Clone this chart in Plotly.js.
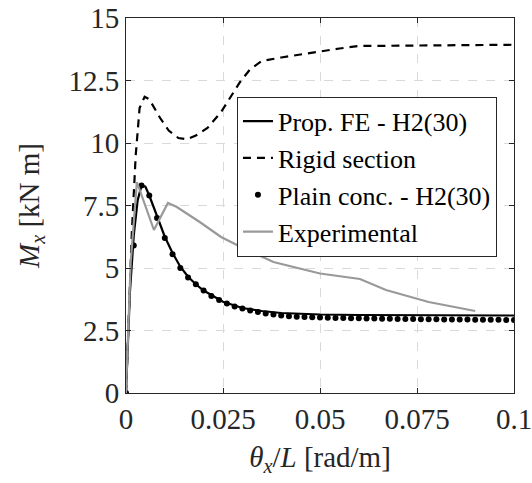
<!DOCTYPE html>
<html>
<head>
<meta charset="utf-8">
<script src="https://cdn.plot.ly/plotly-3.0.1.min.js"></script>
<style>html,body{margin:0;padding:0;background:#fff;}#chart{width:532px;height:483px;}</style>
</head>
<body>
<div id="chart"></div>
<script>
// Prop. FE - H2(30)
const feX = [0, 0.001, 0.002, 0.003, 0.004, 0.005, 0.006, 0.008, 0.010, 0.012, 0.014, 0.016, 0.018, 0.020, 0.025, 0.030, 0.035, 0.040, 0.050, 0.060, 0.070, 0.080, 0.090, 0.100];
const feY = [0, 4.0, 6.3, 7.7, 8.3, 8.25, 7.9, 7.05, 6.25, 5.6, 5.05, 4.65, 4.35, 4.1, 3.65, 3.4, 3.28, 3.2, 3.14, 3.12, 3.11, 3.1, 3.1, 3.1];
// Rigid section
const rigidX = [0, 0.0015, 0.0025, 0.0035, 0.0048, 0.006, 0.0088, 0.011, 0.0135, 0.0157, 0.018, 0.021, 0.0245, 0.0294, 0.032, 0.035, 0.040, 0.045, 0.050, 0.055, 0.060, 0.070, 0.080, 0.090, 0.100];
const rigidY = [0, 6.4, 9.5, 11.4, 11.85, 11.75, 11.0, 10.5, 10.2, 10.15, 10.3, 10.6, 11.24, 12.44, 12.95, 13.28, 13.42, 13.55, 13.65, 13.78, 13.88, 13.9, 13.9, 13.92, 13.93];
// Plain conc. - H2(30)
const plainX = [0, 0.002, 0.004, 0.006, 0.008, 0.010, 0.012, 0.014, 0.016, 0.018, 0.020, 0.022, 0.024, 0.026, 0.028, 0.030, 0.032, 0.034, 0.036, 0.038, 0.040, 0.042, 0.044, 0.046, 0.048, 0.050, 0.052, 0.054, 0.056, 0.058, 0.060, 0.062, 0.064, 0.066, 0.068, 0.070, 0.072, 0.074, 0.076, 0.078, 0.080, 0.082, 0.084, 0.086, 0.088, 0.090, 0.092, 0.094, 0.096, 0.098, 0.100];
const plainY = [0, 5.9, 8.3, 7.9, 7.0, 6.2, 5.55, 5.0, 4.62, 4.35, 4.1, 3.88, 3.72, 3.58, 3.46, 3.38, 3.3, 3.24, 3.18, 3.14, 3.1, 3.07, 3.05, 3.04, 3.03, 3.02, 3.01, 3.0, 3.0, 2.99, 2.99, 2.98, 2.98, 2.97, 2.97, 2.96, 2.96, 2.96, 2.95, 2.95, 2.95, 2.94, 2.94, 2.94, 2.94, 2.93, 2.93, 2.93, 2.93, 2.92, 2.92];
// Experimental
const expX = [0, 0.0012, 0.0028, 0.0072, 0.0108, 0.013, 0.019, 0.0245, 0.0286, 0.038, 0.050, 0.055, 0.0603, 0.067, 0.0758, 0.078, 0.090];
const expY = [0, 5.2, 8.44, 6.52, 7.6, 7.45, 6.84, 6.24, 5.92, 5.24, 4.78, 4.66, 4.56, 4.12, 3.72, 3.64, 3.28];

const xTicks = [0, 0.025, 0.05, 0.075, 0.1];
const xTickText = ['0', '0.025', '0.05', '0.075', '0.1'];
const yTicks = [0, 2.5, 5, 7.5, 10, 12.5, 15];
const yTickText = ['0', '2.5', '5', '7.5', '10', '12.5', '15'];

const FONT = "'Liberation Serif', 'Times New Roman', serif";

const traces = [
  {x: feX, y: feY, mode: 'lines', name: 'Prop. FE - H2(30)', line: {color: '#000000', width: 2.2}},
  {x: rigidX, y: rigidY, mode: 'lines', name: 'Rigid section', line: {color: '#000000', width: 2.2, dash: '8px,6px'}},
  {x: plainX, y: plainY, mode: 'markers', name: 'Plain conc. - H2(30)', marker: {color: '#000000', size: 6}},
  {x: expX, y: expY, mode: 'lines', name: 'Experimental', line: {color: '#999999', width: 2.2}}
];

const axisCommon = {
  showline: true, linecolor: '#262626', linewidth: 1, mirror: 'ticks',
  ticks: 'inside', ticklen: 5, tickcolor: '#262626', tickwidth: 1,
  showgrid: true, gridcolor: '#d9d9d9', gridwidth: 1, griddash: 'dash',
  zeroline: false, ticklabeloverflow: 'allow',
  tickfont: {family: FONT, size: 29, color: '#262626'}
};

const layout = {
  width: 532, height: 483,
  margin: {l: 126, r: 18, t: 18, b: 90, autoexpand: false},
  paper_bgcolor: '#ffffff', plot_bgcolor: '#ffffff',
  font: {family: FONT, color: '#262626'},
  showlegend: true,
  legend: {
    x: 0.286, y: 0.79, xanchor: 'left', yanchor: 'top',
    bgcolor: '#ffffff', bordercolor: '#262626', borderwidth: 1,
    font: {family: FONT, size: 26, color: '#000000'},
    tracegroupgap: 0, itemwidth: 30
  },
  xaxis: Object.assign({}, axisCommon, {
    range: [0, 0.1], tickmode: 'array', tickvals: xTicks, ticktext: xTickText,
    title: {text: '<i>θ</i><sub><i>x</i></sub>/<i>L</i> [rad/m]', font: {family: FONT, size: 29, color: '#262626'}, standoff: 12}
  }),
  yaxis: Object.assign({}, axisCommon, {
    range: [0, 15], tickmode: 'array', tickvals: yTicks, ticktext: yTickText,
    title: {text: '<i>M</i><sub><i>x</i></sub> [kN m]', font: {family: FONT, size: 29, color: '#262626'}, standoff: 20}
  })
};

Plotly.newPlot('chart', traces, layout, {displayModeBar: false, staticPlot: true});
</script>
</body>
</html>
